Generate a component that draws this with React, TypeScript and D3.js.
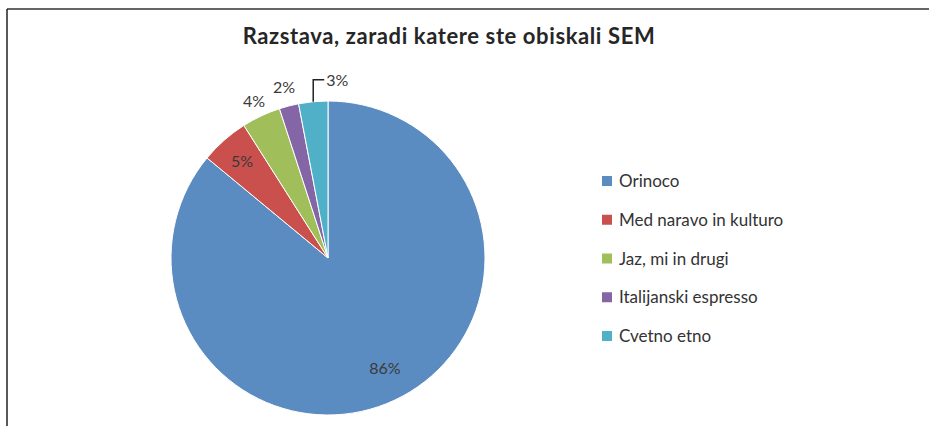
import React, { useEffect, useRef } from 'react';
import * as d3 from 'd3';

const categories = ['Orinoco', 'Med naravo in kulturo', 'Jaz, mi in drugi', 'Italijanski espresso', 'Cvetno etno'];
const shares = [86, 5, 4, 2, 3];
const colors = ['#5b8cc1', '#c9504d', '#a0bf5a', '#8466a6', '#4fb0c8'];
const title = 'Razstava, zaradi katere ste obiskali SEM';

const width = 929;
const height = 426;

const App: React.FC = () => {
  const svgRef = useRef<SVGSVGElement>(null);

  useEffect(() => {
    if (!svgRef.current) return;
    const svg = d3.select(svgRef.current);
    svg.selectAll('*').remove();

    const font = 'Lato, "DejaVu Sans", sans-serif';

    // frame (top + left only visible)
    svg.append('line').attr('x1', 7).attr('x2', width).attr('y1', 9).attr('y2', 9)
      .attr('stroke', '#333').attr('stroke-width', 1.5);
    svg.append('line').attr('x1', 7).attr('x2', 7).attr('y1', 9).attr('y2', height)
      .attr('stroke', '#222').attr('stroke-width', 1.5);

    svg.append('text')
      .attr('x', 449).attr('y', 44)
      .attr('text-anchor', 'middle')
      .attr('font-family', font).attr('font-weight', 'bold').attr('font-size', 22)
      .attr('letter-spacing', 0.6)
      .attr('fill', '#262626')
      .text(title);

    const cx = 328, cy = 258, R = 157;
    const pie = d3.pie<number>().sort(null).value(d => d);
    const arcs = pie(shares);
    const arc = d3.arc<d3.PieArcDatum<number>>().innerRadius(0).outerRadius(R);

    const g = svg.append('g').attr('transform', `translate(${cx},${cy})`);
    g.selectAll('path')
      .data(arcs)
      .enter()
      .append('path')
      .attr('d', arc)
      .attr('fill', (_, i) => colors[i])
      .attr('stroke', '#fff')
      .attr('stroke-width', 1);

    // label radii: inside for the big ones, outside for the small ones
    const labelR = [122, 130, 174, 177, 0];
    arcs.forEach((a, i) => {
      const mid = (a.startAngle + a.endAngle) / 2;
      if (i === 4) {
        // leader line label
        const px = R * Math.sin(mid);
        const py = -R * Math.cos(mid);
        const topY = py - 22;
        g.append('path')
          .attr('d', `M${px},${py}V${topY}H${px + 11}`)
          .attr('fill', 'none').attr('stroke', '#222').attr('stroke-width', 1.5);
        g.append('text')
          .attr('x', px + 13).attr('y', topY + 6)
          .attr('font-family', font).attr('font-size', 16).attr('fill', '#3a3a3a')
          .text(`${shares[i]}%`);
        return;
      }
      const lr = labelR[i];
      g.append('text')
        .attr('x', lr * Math.sin(mid) + (i === 0 ? 5 : 0))
        .attr('y', -lr * Math.cos(mid) + 6)
        .attr('text-anchor', 'middle')
        .attr('font-family', font).attr('font-size', 16).attr('fill', '#3a3a3a')
        .text(`${shares[i]}%`);
    });

    // legend
    const legendY = d3.scalePoint<string>().domain(categories).range([181, 336]);
    const lg = svg.append('g');
    categories.forEach((c, i) => {
      const y = legendY(c) as number;
      lg.append('rect')
        .attr('x', 602).attr('y', y - 5).attr('width', 10).attr('height', 10)
        .attr('fill', colors[i]);
      lg.append('text')
        .attr('x', 619).attr('y', y + 6)
        .attr('font-family', font).attr('font-size', 17).attr('fill', '#333')
        .text(c);
    });
  }, []);

  return (
    <svg
      ref={svgRef}
      width={width}
      height={height}
      style={{ position: 'absolute', left: 0, top: 0, background: '#fff' }}
    />
  );
};

export default App;
